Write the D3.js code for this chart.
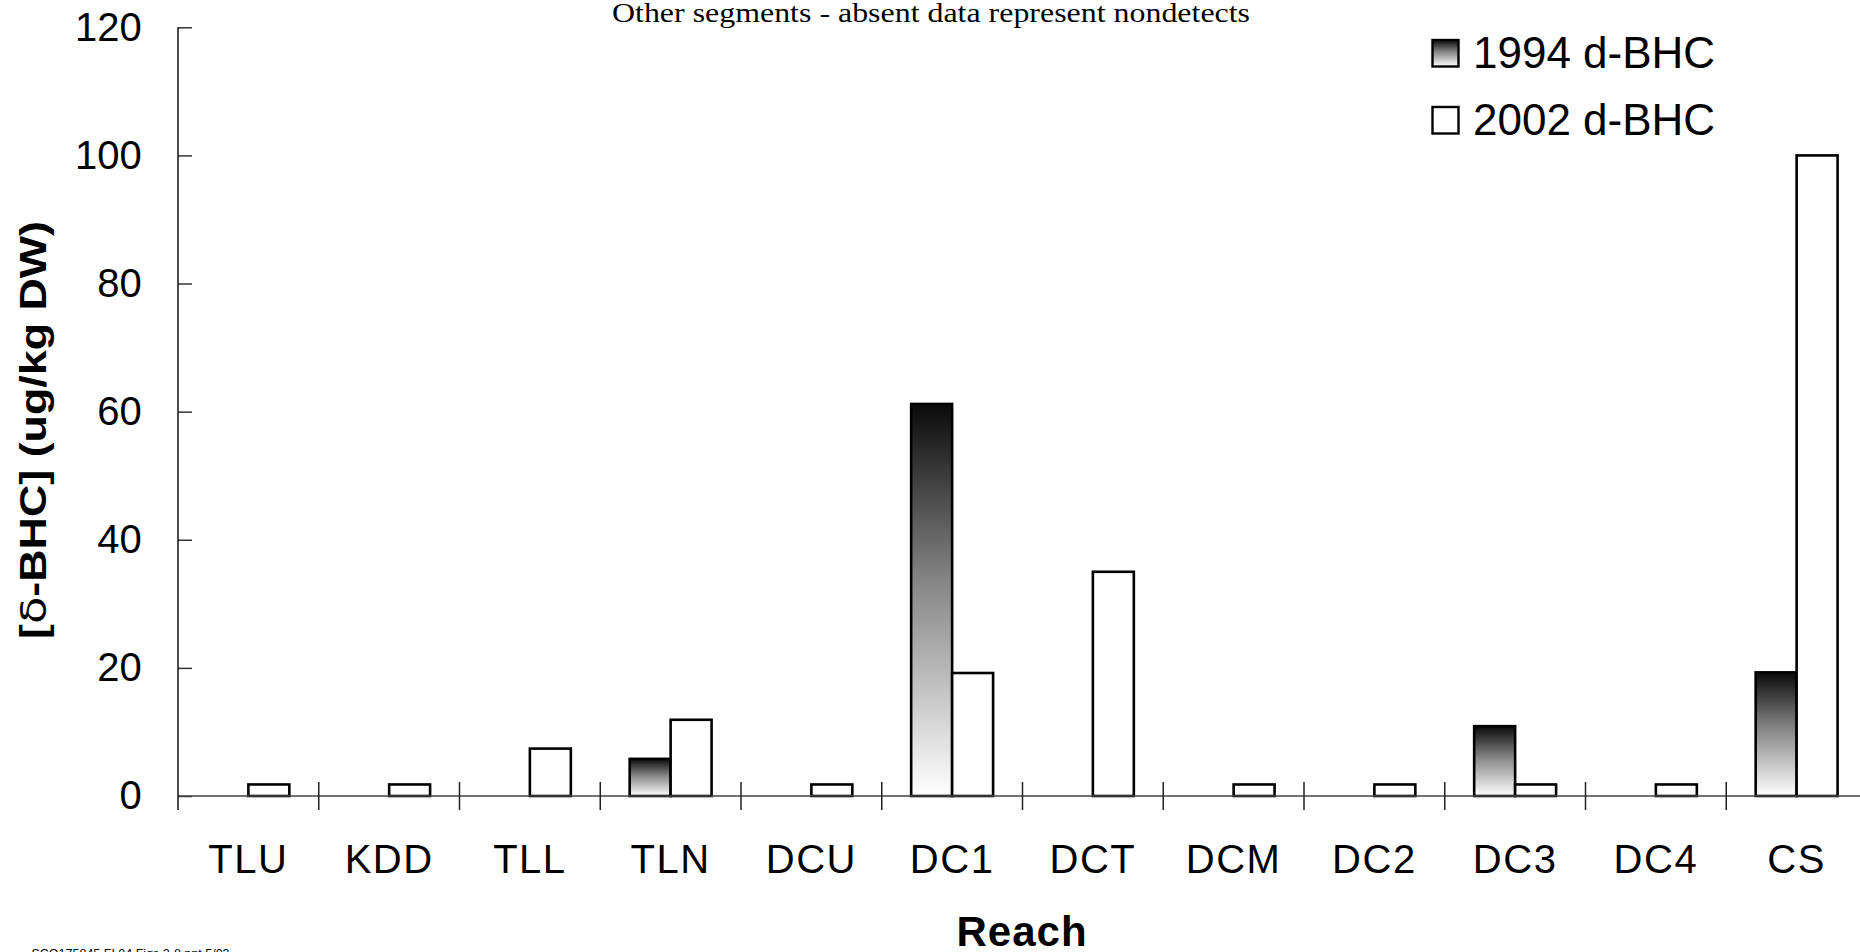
<!DOCTYPE html>
<html>
<head>
<meta charset="utf-8">
<script src="https://cdn.jsdelivr.net/npm/d3@7"></script>
<style>
  html, body { margin: 0; padding: 0; background: #fff; }
  svg { display: block; }
</style>
</head>
<body>
<svg id="chart" width="1860" height="952"></svg>
<script>
// ---- data ----
const categories = ["TLU","KDD","TLL","TLN","DCU","DC1","DCT","DCM","DC2","DC3","DC4","CS"];
const values1994 = [null,null,null,5.8,null,61.2,null,null,null,10.9,null,19.3];
const values2002 = [1.8,1.8,7.4,11.9,1.8,19.2,35.0,1.8,1.8,1.8,1.8,100];
const seriesNames = ["1994 d-BHC","2002 d-BHC"];
const yTicks = [0,20,40,60,80,100,120];
const titleText = "Other segments - absent data represent nondetects";
const xTitle = "Reach";
const footerText = "SCO175845.FI.04 Figs 2-8.ppt 5/03";

(function () {
// ---- layout ----
const svg = d3.select("#chart");
const mLeft = 178, mRight = 1867, mTop = 27.3, mBottom = 796;
const font = "'Liberation Sans', Arial, sans-serif";

const x = d3.scaleBand().domain(categories).range([mLeft, mRight]).padding(0);
const y = d3.scaleLinear().domain([0, 120]).range([mBottom, mTop]);
const bw = x.bandwidth();
const barW = bw * 0.291;

// gradient (black top -> white bottom)
const defs = svg.append("defs");
const grad = defs.append("linearGradient").attr("id", "g1994")
  .attr("x1", 0).attr("y1", 0).attr("x2", 0).attr("y2", 1);
grad.append("stop").attr("offset", "0%").attr("stop-color", "#0a0a0a");
grad.append("stop").attr("offset", "45%").attr("stop-color", "#858585");
grad.append("stop").attr("offset", "100%").attr("stop-color", "#ffffff");

// title at top
svg.append("text").attr("x", 931).attr("y", 21.5).attr("text-anchor", "middle")
  .style("font-family", "'Liberation Serif', 'Times New Roman', serif").style("font-size", "28px")
  .attr("textLength", 638).attr("lengthAdjust", "spacingAndGlyphs")
  .text(titleText);

// y axis
const yAxis = d3.axisLeft(y).tickValues(yTicks).tickSize(-14).tickPadding(36.3).tickSizeOuter(0);
const gy = svg.append("g").attr("transform", `translate(${mLeft},0)`).call(yAxis);
gy.select(".domain").remove();
gy.selectAll(".tick line").attr("stroke", "#333").attr("stroke-width", 1.5);
gy.selectAll(".tick text").style("font-family", font).style("font-size", "40px").attr("fill", "#000");

// x labels
const xAxis = d3.axisBottom(x).tickSize(0).tickPadding(49);
const gx = svg.append("g").attr("transform", `translate(0,${mBottom})`).call(xAxis);
gx.select(".domain").remove();
gx.selectAll(".tick text").style("font-family", font).style("font-size", "40px")
  .style("letter-spacing", "1.5px").attr("fill", "#000");

// bars 1994
svg.append("g").selectAll("rect").data(categories.map((c, i) => ({c, v: values1994[i]})).filter(d => d.v != null))
  .join("rect")
  .attr("x", d => x(d.c) + bw / 2 - barW)
  .attr("y", d => y(d.v))
  .attr("width", barW)
  .attr("height", d => y(0) - y(d.v))
  .attr("fill", "url(#g1994)")
  .attr("stroke", "#000").attr("stroke-width", 2.6);

// bars 2002
svg.append("g").selectAll("rect").data(categories.map((c, i) => ({c, v: values2002[i]})).filter(d => d.v != null))
  .join("rect")
  .attr("x", d => x(d.c) + bw / 2)
  .attr("y", d => y(d.v))
  .attr("width", barW)
  .attr("height", d => y(0) - y(d.v))
  .attr("fill", "#fff")
  .attr("stroke", "#000").attr("stroke-width", 2.6);

// axis lines
svg.append("line").attr("x1", mLeft).attr("x2", 1860).attr("y1", y(0)).attr("y2", y(0))
  .attr("stroke", "#444").attr("stroke-width", 1.5);
svg.append("line").attr("x1", mLeft).attr("x2", mLeft).attr("y1", mTop).attr("y2", y(0) + 14)
  .attr("stroke", "#111").attr("stroke-width", 1.5);
// category boundary ticks
svg.append("g").selectAll("line").data(categories.slice(1)).join("line")
  .attr("x1", d => x(d)).attr("x2", d => x(d))
  .attr("y1", y(0) - 14).attr("y2", y(0) + 14)
  .attr("stroke", "#222").attr("stroke-width", 1.5);

// y title
const yt = svg.append("text")
  .attr("transform", `translate(46,430) rotate(-90)`)
  .attr("text-anchor", "middle")
  .style("font-family", font).style("font-size", "36px").style("font-weight", "bold")
  .attr("textLength", 418).attr("lengthAdjust", "spacingAndGlyphs");
yt.append("tspan").text("[");
yt.append("tspan").style("font-weight", "normal").style("font-family", "'DejaVu Sans', sans-serif").text("δ");
yt.append("tspan").text("-BHC] (ug/kg DW)");

// x title
svg.append("text").attr("x", 1022).attr("y", 946).attr("text-anchor", "middle")
  .style("font-family", font).style("font-size", "42px").style("font-weight", "bold")
  .style("letter-spacing", "1px")
  .text(xTitle);

// legend
const legend = svg.append("g");
const legY = [40, 107];
seriesNames.forEach((name, i) => {
  legend.append("rect").attr("x", 1432.5).attr("y", legY[i]).attr("width", 26).attr("height", 26.5)
    .attr("fill", i === 0 ? "url(#g1994)" : "#fff").attr("stroke", "#000").attr("stroke-width", 2.4);
  legend.append("text").attr("x", 1473).attr("y", legY[i] + 28.3)
    .style("font-family", font).style("font-size", "44px").attr("fill", "#000")
    .text(name);
});

// footer (clipped at bottom)
svg.append("text").attr("x", 31.5).attr("y", 957.5)
  .style("font-family", font).style("font-size", "12.5px").attr("fill", "#000")
  .text(footerText);
})();
</script>
</body>
</html>
